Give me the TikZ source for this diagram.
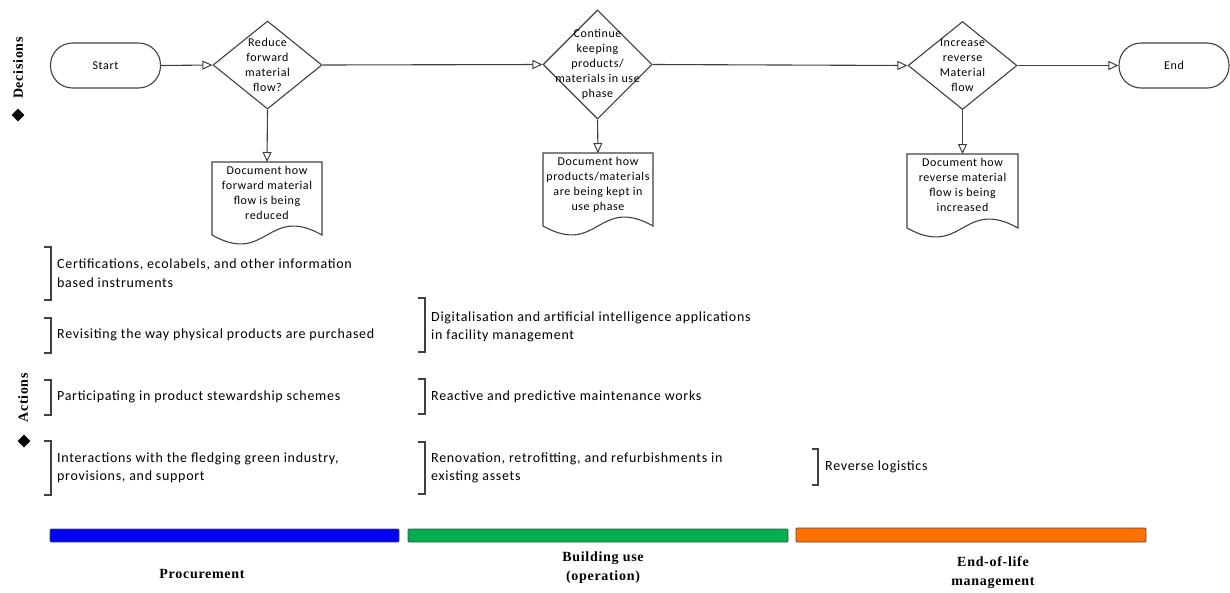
\documentclass[tikz,border=0pt]{standalone}
\usepackage{fontspec}
\setmainfont{Carlito}
\newfontfamily\bodyfont[LetterSpace=5]{Carlito}
\newfontfamily\labelfont[LetterSpace=5]{Liberation Serif}
\usetikzlibrary{arrows.meta,shapes.geometric}

\tikzset{
  flowline/.style={draw=black!75, line width=1.1pt},
  flowarrow/.style={flowline, -{Triangle[open, length=10pt, width=9pt, line width=1pt]}},
  terminal/.style={draw=black!75, line width=1.1pt, rounded corners=22pt,
    minimum width=110pt, minimum height=45pt, font=\bodyfont\fontsize{12}{15}\selectfont},
  decision/.style={draw=black!75, line width=1.1pt, shape=diamond, inner sep=0pt,
    minimum width=109pt, minimum height=88pt},
  dectext/.style={align=center, font=\bodyfont\fontsize{12}{15}\selectfont, inner sep=0pt},
  docbox/.style={minimum width=110pt, inner sep=0pt, anchor=north},
  doctext/.style={align=center, font=\bodyfont\fontsize{12}{15}\selectfont, inner sep=0pt, anchor=north},
  doclines/.style={draw=black!75, line width=1.1pt},
  action/.style={anchor=west, align=left, inner sep=0pt, font=\bodyfont\fontsize{14}{18.5}\selectfont},
  bracket/.style={draw=black!75, line width=1.1pt},
  phasebar/.style={draw=black!70, line width=0.8pt, rounded corners=1pt},
  phaselabel/.style={align=center, inner sep=0pt, font=\labelfont\bfseries\fontsize{14}{19}\selectfont},
  sidelabel/.style={rotate=90, inner sep=0pt, font=\labelfont\bfseries\fontsize{14}{15}\selectfont},
  marker/.style={shape=diamond, fill=black, inner sep=0pt, minimum size=13pt}
}

% document symbol: rectangle with a wavy bottom edge
\newcommand\docshape[4]{% x1, x2, top, side bottom
  \draw[doclines] (#1,#4) -- (#1,#3) -- (#2,#3) -- (#2,#4)
    .. controls ({(#1+#2)/2},{#4-31}) and ({(#1+#2)/2},{#4+31}) .. (#1,#4) -- cycle;
}

\begin{document}
\begin{tikzpicture}[x=1pt, y=-1pt]
\useasboundingbox (0,0) rectangle (1230,592);

% side labels
\node[sidelabel] (declab) at (18,68) {Decisions};
\node[marker] (decmark) at (18,115) {};
\node[sidelabel] (actlab) at (23,398) {Actions};
\node[marker] (actmark) at (24,441) {};

% decision row
\node[terminal] (start) at (105.5,65.5) {Start};
\node[decision] (d1) at (267.5,65) {};
\node[dectext] (t1) at (d1.center) {Reduce\\forward\\material\\flow?};
\node[decision, minimum height=109pt] (d2) at (597.5,64.5) {};
\node[dectext] (t2) at (d2.center) {Continue\\keeping\\products/\\materials in use\\phase};
\node[decision] (d3) at (962.5,65.5) {};
\node[dectext] (t3) at (d3.center) {Increase\\reverse\\Material\\flow};
\node[terminal] (end) at (1174,65.5) {End};

\draw[flowarrow] (start.east) -- (d1.west);
\draw[flowarrow] (d1.east) -- (d2.west);
\draw[flowarrow] (d2.east) -- (d3.west);
\draw[flowarrow] (d3.east) -- (end.west);

% documents
\node[docbox, minimum height=72pt] (doc1) at (267,162) {};
\docshape{212}{322}{162}{235}
\node[doctext] at (267,166) {Document how\\forward material\\flow is being\\reduced};
\node[docbox, minimum height=72pt] (doc2) at (598,153) {};
\docshape{543}{653}{153}{226}
\node[doctext] at (598,157) {Document how\\products/materials\\are being kept in\\use phase};
\node[docbox, minimum height=72pt] (doc3) at (962.5,154) {};
\docshape{907}{1018}{154}{228}
\node[doctext] at (962.5,158) {Document how\\reverse material\\flow is being\\increased};

\draw[flowarrow] (d1.south) -- (doc1.north);
\draw[flowarrow] (d2.south) -- (doc2.north);
\draw[flowarrow] (d3.south) -- (doc3.north);

% actions: procurement
\node[action] (a1) at (57,273) {Certifications, ecolabels, and other information\\based instruments};
\draw[bracket] (44,247) -- (51,247) -- (51,300) -- (44,300);
\node[action] (a2) at (57,335) {Revisiting the way physical products are purchased};
\draw[bracket] (44,318) -- (51,318) -- (51,353) -- (44,353);
\node[action] (a3) at (57,397) {Participating in product stewardship schemes};
\draw[bracket] (44,380) -- (51,380) -- (51,415) -- (44,415);
\node[action] (a4) at (57,468) {Interactions with the fledging green industry,\\provisions, and support};
\draw[bracket] (44,441) -- (51,441) -- (51,495) -- (44,495);

% actions: building use
\node[action] (b1) at (431,327) {Digitalisation and artificial intelligence applications\\in facility management};
\draw[bracket] (418,298) -- (425,298) -- (425,352) -- (418,352);
\node[action] (b2) at (431,397) {Reactive and predictive maintenance works};
\draw[bracket] (418,379) -- (425,379) -- (425,414) -- (418,414);
\node[action] (b3) at (431,468) {Renovation, retrofitting, and refurbishments in\\existing assets};
\draw[bracket] (418,442) -- (425,442) -- (425,494) -- (418,494);

% actions: end of life
\node[action] (c1) at (825,467) {Reverse logistics};
\draw[bracket] (812,449) -- (818,449) -- (818,485) -- (812,485);

% phase bars
\filldraw[phasebar, fill={rgb,255:red,0;green,0;blue,245}] (50,529) rectangle (399,542);
\filldraw[phasebar, fill={rgb,255:red,0;green,176;blue,80}] (408,529) rectangle (788,542);
\filldraw[phasebar, fill={rgb,255:red,255;green,112;blue,0}] (796,528) rectangle (1146,542);

\node[phaselabel] (p1) at (202,574) {Procurement};
\node[phaselabel] (p2) at (603,568) {Building use\\(operation)};
\node[phaselabel] (p3) at (993,573) {End-of-life\\management};
\end{tikzpicture}
\end{document}
